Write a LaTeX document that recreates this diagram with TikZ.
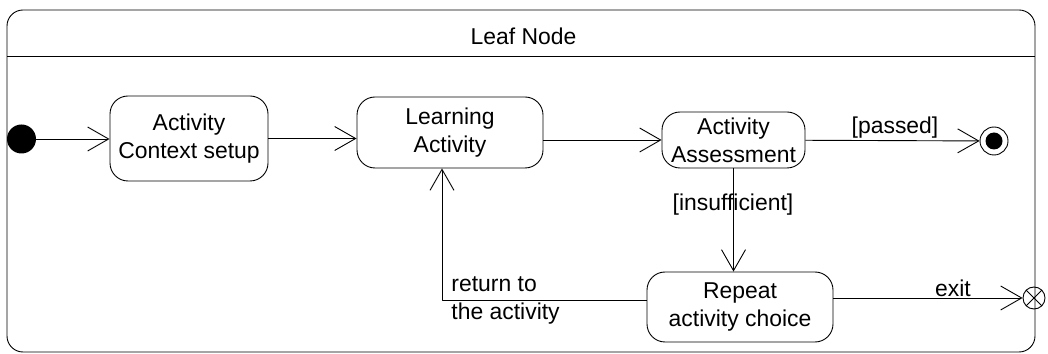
\documentclass[tikz,border=0pt]{standalone}
\usepackage{fontspec}
\setmainfont{Liberation Sans}
\usetikzlibrary{arrows.meta}
\begin{document}
\begin{tikzpicture}[>={Straight Barb[length=21bp,width=24bp]},line join=bevel,line width=0.9bp,
  every node/.style={font=\fontsize{23}{28}\selectfont},
  statebox/.style={draw,rounded corners=18bp,align=center,inner sep=0bp},
  lbl/.style={draw=none,inner sep=0bp},]
%%
\useasboundingbox (0bp,0bp) rectangle (1048bp,354bp);
\node (leaf) at (521bp,173bp) [draw,rounded corners=16bp,minimum width=1028bp,minimum height=342bp] {};
\node (title) at (523.5bp,318bp) [lbl] {Leaf Node};
\coordinate (hdl) at (7bp,298bp);
\coordinate (hdr) at (1035bp,298bp);
\draw (hdl) -- (hdr);
%
\node (init) at (21.5bp,215bp) [circle,fill=black,minimum size=29bp,inner sep=0bp] {};
\node (setup) at (189bp,215.5bp) [statebox,minimum width=158bp,minimum height=85bp] {Activity\\Context setup};
\node (learn) at (450bp,221.5bp) [statebox,minimum width=186bp,minimum height=71bp] {Learning\\Activity};
\node (assess) at (733.5bp,214bp) [statebox,minimum width=143bp,minimum height=56bp] {Activity\\Assessment};
\node (repeat) at (740bp,47bp) [statebox,minimum width=186bp,minimum height=70bp] {Repeat\\activity choice};
\node (final) at (994bp,213bp) [circle,draw,minimum size=28bp,inner sep=0bp] {};
\node (finaldot) at (final) [circle,fill=black,minimum size=17bp,inner sep=0bp] {};
\node (exit) at (1034bp,56bp) [circle,draw,minimum size=22bp,inner sep=0bp] {};
\draw (exit.north west) -- (exit.south east) (exit.north east) -- (exit.south west);
%
\draw [->] (init) -- (init -| setup.west);
\draw [->] (setup) -- (setup -| learn.west);
\draw [->] (learn.east |- assess) -- (assess);
\draw [->] (assess) -- (final);
\node (passed) at (895bp,226bp) [lbl] {[passed]};
\draw [->] (assess) -- (assess |- repeat.north);
\node (insuff) at (733bp,149bp) [lbl] {[insufficient]};
\draw [->] (repeat.east |- exit) -- (exit);
\node (exitlbl) at (953bp,66bp) [lbl] {exit};
\coordinate (ret) at (442bp,54bp);
\draw [->] (repeat.west |- ret) -- (ret) -- (ret |- learn.south);
\node (retlbl) at (451bp,53.5bp) [lbl,anchor=west,align=left] {return to\\the activity};
%
\end{tikzpicture}
\end{document}
